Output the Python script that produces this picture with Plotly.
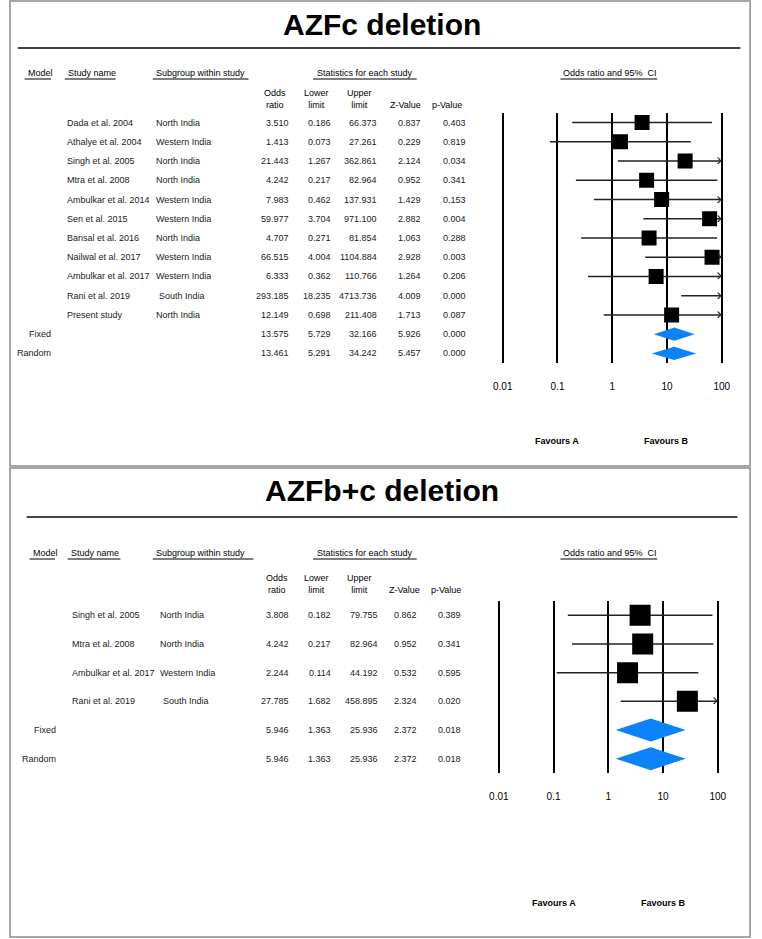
import plotly.graph_objects as go

W, H = 762, 939

# ---------------- data: AZFc deletion ----------------
c_studies = ["Dada et al. 2004", "Athalye et al. 2004", "Singh et al. 2005", "Mtra et al. 2008",
             "Ambulkar et al. 2014", "Sen et al. 2015", "Bansal et al. 2016", "Nailwal et al. 2017",
             "Ambulkar et al. 2017", "Rani et al. 2019", "Present study"]
c_subgroups = ["North India", "Western India", "North India", "North India", "Western India",
               "Western India", "North India", "Western India", "Western India", "South India", "North India"]
c_or = [3.510, 1.413, 21.443, 4.242, 7.983, 59.977, 4.707, 66.515, 6.333, 293.185, 12.149]
c_lo = [0.186, 0.073, 1.267, 0.217, 0.462, 3.704, 0.271, 4.004, 0.362, 18.235, 0.698]
c_hi = [66.373, 27.261, 362.861, 82.964, 137.931, 971.100, 81.854, 1104.884, 110.766, 4713.736, 211.408]
c_z = [0.837, 0.229, 2.124, 0.952, 1.429, 2.882, 1.063, 2.928, 1.264, 4.009, 1.713]
c_p = [0.403, 0.819, 0.034, 0.341, 0.153, 0.004, 0.288, 0.003, 0.206, 0.000, 0.087]
c_models = ["Fixed", "Random"]
c_m_or = [13.575, 13.461]
c_m_lo = [5.729, 5.291]
c_m_hi = [32.166, 34.242]
c_m_z = [5.926, 5.457]
c_m_p = [0.000, 0.000]

# ---------------- data: AZFb+c deletion ----------------
bc_studies = ["Singh et al. 2005", "Mtra et al. 2008", "Ambulkar et al. 2017", "Rani et al. 2019"]
bc_subgroups = ["North India", "North India", "Western India", "South India"]
bc_or = [3.808, 4.242, 2.244, 27.785]
bc_lo = [0.182, 0.217, 0.114, 1.682]
bc_hi = [79.755, 82.964, 44.192, 458.895]
bc_z = [0.862, 0.952, 0.532, 2.324]
bc_p = [0.389, 0.341, 0.595, 0.020]
bc_models = ["Fixed", "Random"]
bc_m_or = [5.946, 5.946]
bc_m_lo = [1.363, 1.363]
bc_m_hi = [25.936, 25.936]
bc_m_z = [2.372, 2.372]
bc_m_p = [0.018, 0.018]

tick_vals = [0.01, 0.1, 1, 10, 100]
tick_text = ["0.01", "0.1", "1", "10", "100"]
titles = ["AZFc deletion", "AZFb+c deletion"]

FONT = "Arial, Liberation Sans, sans-serif"
TXT = "#1a1a1a"
BLUE = "#0A82FA"
XMAX = 100
TS = 9   # table text size
HS = 9   # header text size

fig = go.Figure()
ann = []
shp = []


def px(x):
    return x / W


def py(y):
    return 1 - y / H


def panel(idx, studies, subgroups, ors, los, his, zs, ps, models, m_or, m_lo, m_hi, m_z, m_p, cfg):
    xa = "x" if idx == 0 else "x2"
    ya = "y" if idx == 0 else "y2"
    yref = "y" if idx == 0 else "y2"
    n = len(studies)
    rows = list(range(n))
    mrows = [n + i for i in range(len(models))]

    # CI lines
    lx, ly = [], []
    for r, lo, hi in zip(rows, los, his):
        lx += [lo, min(hi, XMAX), None]
        ly += [r, r, None]
    fig.add_trace(go.Scatter(x=lx, y=ly, mode="lines", line=dict(color="#222", width=1.5),
                             xaxis=xa, yaxis=ya, hoverinfo="skip", showlegend=False))
    # squares
    fig.add_trace(go.Scatter(x=ors, y=rows, mode="markers",
                             marker=dict(symbol="square", size=cfg["sq"], color="black"),
                             xaxis=xa, yaxis=ya, showlegend=False))
    # arrows for truncated CIs
    ax = [XMAX for hi in his if hi > XMAX]
    ay = [r for r, hi in zip(rows, his) if hi > XMAX]
    fig.add_trace(go.Scatter(x=ax, y=ay, mode="text", text=["›"] * len(ax),
                             textposition="middle left",
                             textfont=dict(family=FONT, size=cfg["arr"], color="#222"),
                             xaxis=xa, yaxis=ya, hoverinfo="skip", showlegend=False))
    # diamonds
    h = cfg["dh"]
    for r, e, lo, hi in zip(mrows, m_or, m_lo, m_hi):
        fig.add_trace(go.Scatter(x=[lo, e, hi, e, lo], y=[r, r - h, r, r + h, r],
                                 mode="lines", fill="toself", fillcolor=BLUE,
                                 line=dict(width=0, color=BLUE),
                                 xaxis=xa, yaxis=ya, hoverinfo="skip", showlegend=False))

    c = cfg["cols"]

    def txt(x, y, s, anchor="left", size=TS, yr=None, color=TXT):
        ann.append(dict(x=px(x), y=y, xref="paper", yref=yr if yr else yref,
                        text=s, showarrow=False, xanchor=anchor, yanchor="middle",
                        font=dict(family=FONT, size=size, color=color)))

    for r, s, g, o, lo, hi, z, p in zip(rows, studies, subgroups, ors, los, his, zs, ps):
        txt(c["name"], r, s)
        txt(c["sub"] + (3 if g.startswith("South") else 0), r, g)
        txt(c["or"], r, f"{o:.3f}", "right")
        txt(c["lo"], r, f"{lo:.3f}", "right")
        txt(c["hi"], r, f"{hi:.3f}", "right")
        txt(c["z"], r, f"{z:.3f}", "right")
        txt(c["p"], r, f"{p:.3f}", "right")
    for r, m, o, lo, hi, z, p in zip(mrows, models, m_or, m_lo, m_hi, m_z, m_p):
        txt(c["model"], r, m, "right")
        txt(c["or"], r, f"{o:.3f}", "right")
        txt(c["lo"], r, f"{lo:.3f}", "right")
        txt(c["hi"], r, f"{hi:.3f}", "right")
        txt(c["z"], r, f"{z:.3f}", "right")
        txt(c["p"], r, f"{p:.3f}", "right")

    # title
    ann.append(dict(x=0.5, y=py(cfg["title_y"]), xref="paper", yref="paper", text=f"<b>{titles[idx]}</b>",
                    showarrow=False, xanchor="center", yanchor="middle",
                    font=dict(family=FONT, size=30, color="black")))
    shp.append(dict(type="line", xref="paper", yref="paper", x0=px(cfg["rule"][0]), x1=px(cfg["rule"][1]),
                    y0=py(cfg["rule_y"]), y1=py(cfg["rule_y"]), line=dict(color="#444", width=2)))

    # headers
    hy = cfg["hdr_y"]
    for label, x0, x1, anchor, tx in cfg["headers"]:
        ann.append(dict(x=px(tx), y=py(hy), xref="paper", yref="paper", text=label, showarrow=False,
                        xanchor=anchor, yanchor="middle", font=dict(family=FONT, size=HS, color="black")))
        shp.append(dict(type="line", xref="paper", yref="paper", x0=px(x0), x1=px(x1),
                        y0=py(hy + 6), y1=py(hy + 6), line=dict(color="#555", width=1.5)))
    # sub-headers
    for label, cx, two in cfg["subs"]:
        yy = cfg["sub_y"] if two else cfg["sub_y"] + 6
        ann.append(dict(x=px(cx), y=py(yy), xref="paper", yref="paper", text=label, showarrow=False,
                        xanchor="center", yanchor="middle", align="center",
                        font=dict(family=FONT, size=HS, color="black")))
    # favours
    for lab, xv in [("Favours A", -1), ("Favours B", 1)]:
        ann.append(dict(x=xv, y=py(cfg["fav_y"]), xref=xa, yref="paper", text=f"<b>{lab}</b>",
                        showarrow=False, xanchor="center", yanchor="middle",
                        font=dict(family=FONT, size=9, color="black")))
    # border
    b = cfg["box"]
    shp.append(dict(type="rect", xref="paper", yref="paper", x0=px(b[0]), x1=px(b[2]),
                    y0=py(b[3]), y1=py(b[1]), line=dict(color="#8a8a8a", width=1.5)))


top_cfg = dict(
    sq=15, arr=16, dh=0.34,
    cols=dict(name=57, sub=148, model=45, **{"or": 288}, lo=331, hi=378, z=423, p=469),
    title_y=24, rule=(9, 748), rule_y=48, hdr_y=73,
    headers=[("Model", 16, 43, "left", 17), ("Study name", 57, 109, "left", 58),
             ("Subgroup within study", 147, 245, "left", 148),
             ("Statistics for each study", 311, 417, "center", 364.5),
             ("Odds ratio and 95%  CI", 564, 663, "center", 615)],
    sub_y=99,
    subs=[("Odds<br>ratio", 272, True), ("Lower<br>limit", 314.5, True), ("Upper<br>limit", 358.5, True),
          ("Z-Value", 406, False), ("p-Value", 448, False)],
    fav_y=441, box=(1, 1, 758, 466),
)
bot_cfg = dict(
    sq=21, arr=16, dh=0.40,
    cols=dict(name=62, sub=152, model=50, **{"or": 288}, lo=331, hi=379, z=419, p=464),
    title_y=490, rule=(18, 745), rule_y=517, hdr_y=553,
    headers=[("Model", 21, 47, "left", 22), ("Study name", 60, 114, "left", 61),
             ("Subgroup within study", 147, 250, "left", 148),
             ("Statistics for each study", 311, 417, "center", 364),
             ("Odds ratio and 95%  CI", 564, 663, "center", 615)],
    sub_y=584,
    subs=[("Odds<br>ratio", 274, True), ("Lower<br>limit", 314.5, True), ("Upper<br>limit", 358, True),
          ("Z-Value", 404.5, False), ("p-Value", 447, False)],
    fav_y=903, box=(1, 468, 758, 937),
)

panel(0, c_studies, c_subgroups, c_or, c_lo, c_hi, c_z, c_p, c_models, c_m_or, c_m_lo, c_m_hi, c_m_z, c_m_p, top_cfg)
panel(1, bc_studies, bc_subgroups, bc_or, bc_lo, bc_hi, bc_z, bc_p, bc_models, bc_m_or, bc_m_lo, bc_m_hi, bc_m_z, bc_m_p, bot_cfg)

xcommon = dict(type="log", range=[-2.02, 2.02], showgrid=True, gridcolor="black", gridwidth=2,
               tickvals=tick_vals, ticktext=tick_text, ticks="", zeroline=False, showline=False,
               tickfont=dict(family=FONT, size=10, color="black"), ticklabelstandoff=16,
               tickprefix="<b>", ticksuffix="</b>")
ycommon = dict(showgrid=False, zeroline=False, showticklabels=False, ticks="", showline=False)

top_x0 = 505 - 56 * 0.02
bot_x0 = 501 - 56 * 0.02
xw = 56 * 4.04

fig.update_layout(
    width=W, height=H, margin=dict(l=0, r=0, t=0, b=0),
    paper_bgcolor="white", plot_bgcolor="white", showlegend=False,
    xaxis=dict(domain=[px(top_x0), px(top_x0 + xw)], anchor="y", **xcommon),
    yaxis=dict(domain=[py(363), py(113)], range=[12.5, -0.5], anchor="x", **ycommon),
    xaxis2=dict(domain=[px(bot_x0), px(bot_x0 + xw)], anchor="y2", **xcommon),
    yaxis2=dict(domain=[py(773), py(601)], range=[5.5, -0.5], anchor="x2", **ycommon),
    annotations=ann, shapes=shp,
)

fig.write_html("out.html", config={"displayModeBar": False},
               post_script="document.body.style.margin='0';document.body.style.overflow='hidden';")
